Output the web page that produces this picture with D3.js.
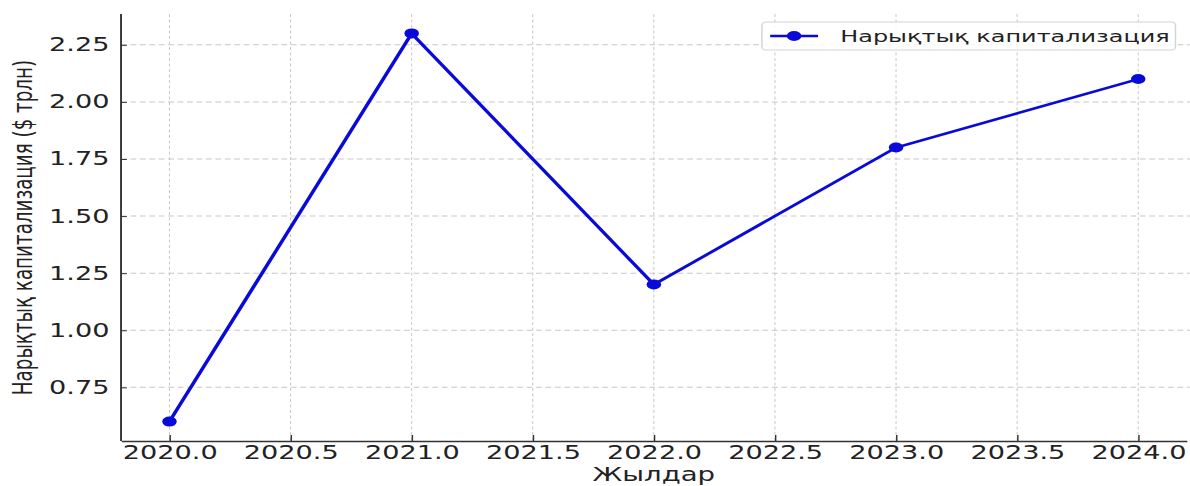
<!DOCTYPE html>
<html>
<head>
<meta charset="utf-8">
<script src="https://cdn.jsdelivr.net/npm/d3@7"></script>
<style>
  body { margin: 0; background: #fff; }
  svg { display: block; }
  text { font-family: "DejaVu Sans", sans-serif; fill: #222; }
</style>
</head>
<body>
<svg></svg>
<script>
// chart data
const years = [2020, 2021, 2022, 2023, 2024];
const cap = [0.6, 2.3, 1.2, 1.8, 2.1];
const x_ticks = [2020.0, 2020.5, 2021.0, 2021.5, 2022.0, 2022.5, 2023.0, 2023.5, 2024.0];
const y_ticks = [0.75, 1.00, 1.25, 1.50, 1.75, 2.00, 2.25];
const series_name = 'Нарықтық капитализация';
const x_title = 'Жылдар';
const y_title = 'Нарықтық капитализация ($ трлн)';

// the reference is stretched sideways, so draw narrow and stretch with viewBox
const out_w = 1190, out_h = 486;
const w = 820, h = 486;
const p_left = 83.4, p_right = 817.7, p_top = 14, p_bottom = 441;
const blue = '#0a0ad8';

let svg = d3.select('svg')
    .attr('width', out_w).attr('height', out_h)
    .attr('viewBox', `0 0 ${w} ${h}`)
    .attr('preserveAspectRatio', 'none');

let x = d3.scaleLinear().domain([2019.8, 2024.2]).range([p_left, p_right]);
let y = d3.scaleLinear().domain([0.515, 2.385]).range([p_bottom, p_top]);

// grid
svg.append('g').selectAll('line')
    .data(x_ticks)
    .enter().append('line')
    .attr('x1', d => x(d)).attr('x2', d => x(d))
    .attr('y1', p_top).attr('y2', p_bottom)
    .attr('stroke', '#c8c8c8').attr('stroke-width', 0.7)
    .attr('stroke-dasharray', '3,2.5');
svg.append('g').selectAll('line')
    .data(y_ticks)
    .enter().append('line')
    .attr('x1', p_left).attr('x2', w)
    .attr('y1', d => y(d)).attr('y2', d => y(d))
    .attr('stroke', '#c8c8c8').attr('stroke-width', 1)
    .attr('stroke-dasharray', '4,2.5');

// axes (ticks point inward, like the picture)
let x_axis = svg.append('g')
    .attr('transform', `translate(0,${p_bottom})`)
    .call(d3.axisBottom(x).tickValues(x_ticks).tickFormat(d3.format('.1f'))
	  .tickSizeInner(-6).tickSizeOuter(0).tickPadding(5));
let y_axis = svg.append('g')
    .attr('transform', `translate(${p_left},0)`)
    .call(d3.axisLeft(y).tickValues(y_ticks).tickFormat(d3.format('.2f'))
	  .tickSizeInner(-4).tickSizeOuter(0).tickPadding(8));

[x_axis, y_axis].forEach(a => {
    a.select('.domain').attr('stroke', '#333').attr('stroke-width', 1.3);
    a.selectAll('.tick line').attr('stroke', '#333').attr('stroke-width', 1);
    a.selectAll('.tick text')
	.style('font-family', '"DejaVu Sans", sans-serif')
	.style('font-size', '18.7px').attr('fill', '#222');
});
y_axis.select('.domain').attr('d', `M0,${p_top}V${p_bottom}`);

// axis titles
svg.append('text')
    .attr('x', (p_left + p_right) / 2).attr('y', 481.5)
    .attr('text-anchor', 'middle')
    .style('font-size', '19px')
    .text(x_title);
svg.append('text')
    .attr('transform', `translate(22,${(p_top + p_bottom) / 2}) rotate(-90)`)
    .attr('text-anchor', 'middle')
    .style('font-size', '18.3px')
    .text(y_title);

// series
let pts = years.map((d, i) => [d, cap[i]]);
svg.append('path')
    .datum(pts)
    .attr('d', d3.line().x(d => x(d[0])).y(d => y(d[1])))
    .attr('fill', 'none').attr('stroke', blue).attr('stroke-width', 2.6);
svg.append('g').selectAll('circle')
    .data(pts)
    .enter().append('circle')
    .attr('cx', d => x(d[0])).attr('cy', d => y(d[1]))
    .attr('r', 5).attr('fill', blue);

// legend
let lg = svg.append('g');
lg.append('rect')
    .attr('x', 525).attr('y', 22).attr('width', 285).attr('height', 28)
    .attr('rx', 3).attr('fill', 'rgba(255,255,255,0.85)')
    .attr('stroke', '#d4d4d4').attr('stroke-width', 1);
lg.append('line')
    .attr('x1', 530.7).attr('x2', 563.7).attr('y1', 36).attr('y2', 36)
    .attr('stroke', blue).attr('stroke-width', 2.6);
lg.append('circle').attr('cx', 547.2).attr('cy', 36).attr('r', 5).attr('fill', blue);
lg.append('text')
    .attr('x', 579).attr('y', 42)
    .style('font-size', '16.5px').attr('fill', '#333')
    .text(series_name);
</script>
</body>
</html>
